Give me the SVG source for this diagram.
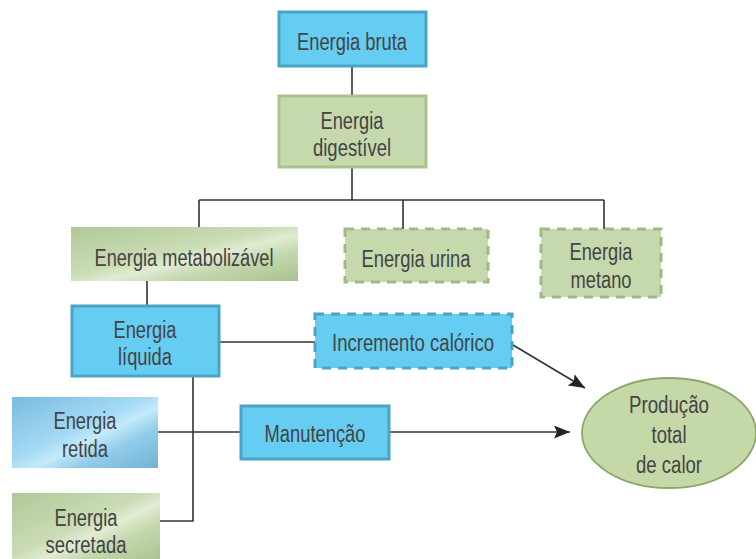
<svg xmlns="http://www.w3.org/2000/svg" width="756" height="559" viewBox="0 0 756 559">
<defs>
<linearGradient id="gGreen" x1="0" y1="0" x2="1" y2="1">
<stop offset="0" stop-color="#b1c898"/>
<stop offset="0.45" stop-color="#cadcb4"/>
<stop offset="0.57" stop-color="#e1ecd3"/>
<stop offset="0.72" stop-color="#c3d7ad"/>
<stop offset="1" stop-color="#a8c28c"/>
</linearGradient>
<linearGradient id="gBlue" x1="0" y1="0" x2="1" y2="1">
<stop offset="0" stop-color="#78badf"/>
<stop offset="0.45" stop-color="#a4daf4"/>
<stop offset="0.57" stop-color="#c4eafb"/>
<stop offset="0.72" stop-color="#92cce9"/>
<stop offset="1" stop-color="#70b3d6"/>
</linearGradient>
<marker id="arr" viewBox="0 0 16 13" refX="16" refY="6.5" markerWidth="16" markerHeight="13" markerUnits="userSpaceOnUse" orient="auto">
<path d="M0,0 L16,6.5 L0,13 L3,6.5 z" fill="#222"/>
</marker>
</defs>
<style>
.blue{fill:#66cdf2;stroke:#4ba4c6;stroke-width:3}
.green{fill:#c6d9ad;stroke:#aac38e;stroke-width:3}
.dgreen{fill:#c6d9ad;stroke:#9fba85;stroke-width:3;stroke-dasharray:9 7}
.dblue{fill:#66cdf2;stroke:#4ba4c6;stroke-width:3;stroke-dasharray:9 7}
.ln{stroke:#333;stroke-width:1.6;fill:none}
text{font-family:"Liberation Sans",Arial,sans-serif;font-size:23px;fill:#444;text-anchor:middle}
</style>
<g id="connectors">
<path class="ln" d="M352,66 V96"/>
<path class="ln" d="M352,167 V200 M199,200 H604 M199,200 V228 M403,200 V230 M604,200 V230"/>
<path class="ln" d="M147,281 V306"/>
<path class="ln" d="M219,342 H316"/>
<path class="ln" d="M193,376 V521 H160"/>
<path class="ln" d="M158,432 H241"/>
<path class="ln" d="M389,432 H570" marker-end="url(#arr)"/>
<path class="ln" d="M513,345 L585,388" marker-end="url(#arr)"/>
</g>
<g id="energia-bruta"><rect class="blue" x="279" y="12" width="147" height="54"/><text x="352" y="50" textLength="110" lengthAdjust="spacingAndGlyphs">Energia bruta</text></g>
<g id="energia-digestivel"><rect class="green" x="279" y="96" width="147" height="71"/><text x="352" y="129" textLength="63" lengthAdjust="spacingAndGlyphs">Energia</text><text x="352" y="156" textLength="78" lengthAdjust="spacingAndGlyphs">digestível</text></g>
<g id="energia-metabolizavel"><rect fill="url(#gGreen)" x="71" y="227" width="227" height="54"/><text x="184" y="266" textLength="179" lengthAdjust="spacingAndGlyphs">Energia metabolizável</text></g>
<g id="energia-urina"><rect class="dgreen" x="345" y="229" width="143" height="53"/><text x="416" y="267" textLength="109" lengthAdjust="spacingAndGlyphs">Energia urina</text></g>
<g id="energia-metano"><rect class="dgreen" x="541" y="229" width="120" height="68"/><text x="601" y="260" textLength="63" lengthAdjust="spacingAndGlyphs">Energia</text><text x="601" y="288" textLength="61" lengthAdjust="spacingAndGlyphs">metano</text></g>
<g id="energia-liquida"><rect class="blue" x="72" y="306" width="147" height="70"/><text x="145" y="338" textLength="63" lengthAdjust="spacingAndGlyphs">Energia</text><text x="145" y="365" textLength="54" lengthAdjust="spacingAndGlyphs">líquida</text></g>
<g id="incremento-calorico"><rect class="dblue" x="315" y="314" width="197" height="54"/><text x="413" y="351" textLength="162" lengthAdjust="spacingAndGlyphs">Incremento calórico</text></g>
<g id="energia-retida"><rect fill="url(#gBlue)" x="12" y="397" width="146" height="71"/><text x="85" y="429" textLength="63" lengthAdjust="spacingAndGlyphs">Energia</text><text x="85" y="457" textLength="46" lengthAdjust="spacingAndGlyphs">retida</text></g>
<g id="manutencao"><rect class="blue" x="241" y="406" width="148" height="53"/><text x="315" y="442" textLength="101" lengthAdjust="spacingAndGlyphs">Manutenção</text></g>
<g id="energia-secretada"><rect fill="url(#gGreen)" x="12" y="493" width="148" height="70"/><text x="86" y="526" textLength="63" lengthAdjust="spacingAndGlyphs">Energia</text><text x="86" y="553" textLength="81" lengthAdjust="spacingAndGlyphs">secretada</text></g>
<g id="producao-total"><ellipse cx="669" cy="433" rx="87" ry="55" fill="#c5d8a8" stroke="#8aa868" stroke-width="1.8"/><text x="669" y="413" textLength="80" lengthAdjust="spacingAndGlyphs">Produção</text><text x="669" y="443" textLength="35" lengthAdjust="spacingAndGlyphs">total</text><text x="669" y="473" textLength="66" lengthAdjust="spacingAndGlyphs">de calor</text></g>
</svg>
